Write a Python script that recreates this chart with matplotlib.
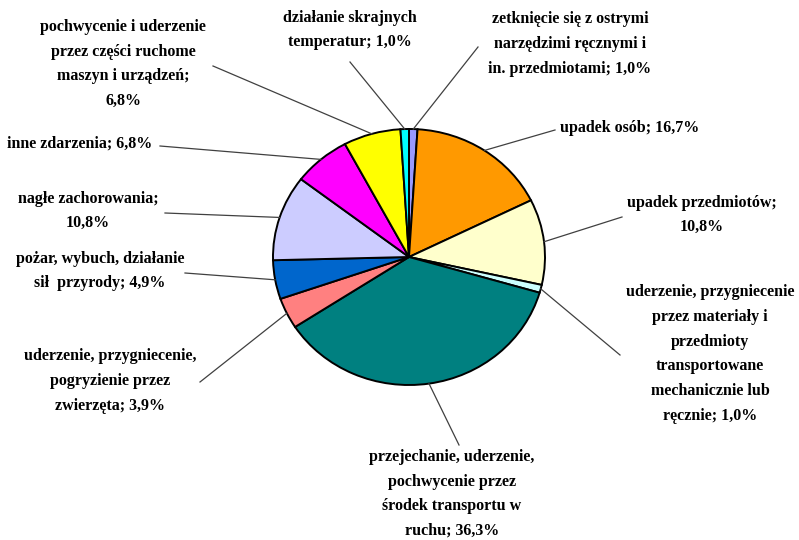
import numpy as np
import matplotlib
matplotlib.use("Agg")
import matplotlib.pyplot as plt

# slices, clockwise from 12 o'clock
labels = [
    "zetknięcie się z ostrymi\nnarzędzimi ręcznymi i\nin. przedmiotami; 1,0%",
    "upadek osób; 16,7%",
    "upadek przedmiotów;\n10,8%",
    "uderzenie, przygniecenie\nprzez materiały i\nprzedmioty\ntransportowane\nmechanicznie lub\nręcznie; 1,0%",
    "przejechanie, uderzenie,\npochwycenie przez\nśrodek transportu w\nruchu; 36,3%",
    "uderzenie, przygniecenie,\npogryzienie przez\nzwierzęta; 3,9%",
    "pożar, wybuch, działanie\nsił  przyrody; 4,9%",
    "nagłe zachorowania;\n10,8%",
    "inne zdarzenia; 6,8%",
    "pochwycenie i uderzenie\nprzez części ruchome\nmaszyn i urządzeń;\n6,8%",
    "działanie skrajnych\ntemperatur; 1,0%",
]
values = [1.0, 16.7, 10.8, 1.0, 36.3, 3.9, 4.9, 10.8, 6.8, 6.8, 1.0]
colors = ["#9999FF", "#FF9900", "#FFFFCC", "#CCFFFF", "#008080", "#FF8080",
          "#0066CC", "#CCCCFF", "#FF00FF", "#FFFF00", "#00FFFF"]

# label centres and leader start points, in pixels of the 799x540 picture
text_pos = [(570, 44), (630, 128), (702, 215), (710, 354), (452, 494),
            (110, 381), (100, 271), (88, 211), (80, 144), (123, 64), (350, 30)]
line_start = [(478, 47), (555, 130), (622, 217), (620, 355), (459, 445),
              (200, 382), (185, 273), (165, 213), (160, 146), (213, 66), (350, 62)]

W, H = 799, 540
cx, cy, rx, ry = 409, 257, 136, 128

fig = plt.figure(figsize=(7.99, 5.40), dpi=100)
fig.patch.set_facecolor("white")

ax = fig.add_axes([(cx - rx) / W, 1 - (cy + ry) / H, 2 * rx / W, 2 * ry / H])
wedges, _ = ax.pie(values, colors=colors, startangle=90, counterclock=False,
                   wedgeprops=dict(edgecolor="black", linewidth=1.4))
ax.set_aspect("auto")
ax.set_xlim(-1, 1)
ax.set_ylim(-1, 1)
ax.axis("off")
for w in wedges:
    w.set_clip_on(False)

# overlay in pixel coordinates for labels and leader lines
ov = fig.add_axes([0, 0, 1, 1], facecolor="none")
ov.set_xlim(0, W)
ov.set_ylim(H, 0)
ov.axis("off")

for w, lab, tp, ls in zip(wedges, labels, text_pos, line_start):
    ang = np.deg2rad((w.theta1 + w.theta2) / 2)
    px = cx + rx * np.cos(ang)
    py = cy - ry * np.sin(ang)
    ov.plot([ls[0], px], [ls[1], py], color="#404040", linewidth=0.9)
    ov.text(tp[0], tp[1], lab, ha="center", va="center", multialignment="center",
            fontsize=11.5, fontweight="bold", family="Liberation Serif",
            linespacing=1.72, color="black")

fig.savefig("out.png", dpi=100)
